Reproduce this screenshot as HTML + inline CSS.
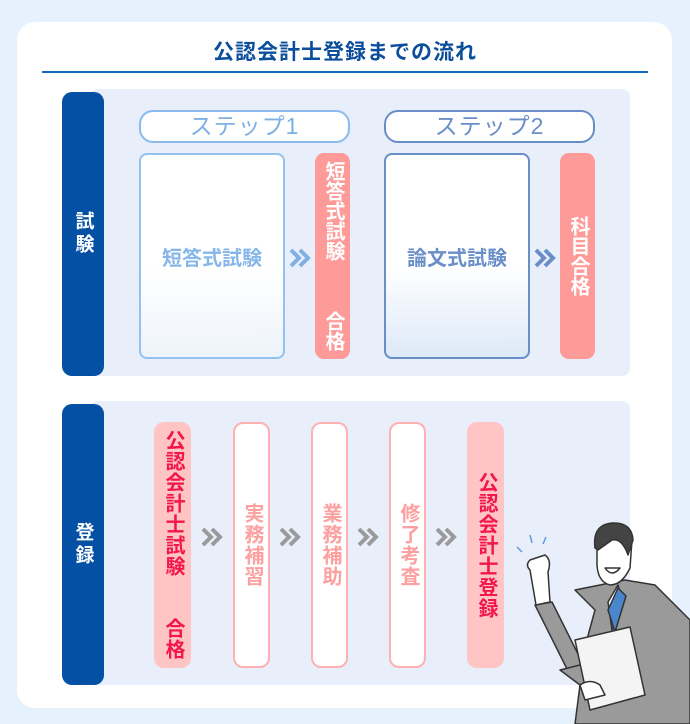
<!DOCTYPE html><html><head><meta charset="utf-8"><style>
*{margin:0;padding:0;box-sizing:border-box}
body{width:690px;height:724px;background:#e5f1fd;position:relative;overflow:hidden;font-family:"Liberation Sans","Noto Sans CJK JP",sans-serif;font-weight:bold}
.a{position:absolute}
.card{left:17px;top:22px;width:655px;height:686px;background:#fff;border-radius:18px}
.title{left:0;width:690px;top:36px;text-align:center;font-size:21px;color:#0b4e9b;letter-spacing:1px}
.line{left:42px;top:71px;width:606px;height:2px;background:#1666b8}
.panel{background:#e8eefa;border-radius:8px}
.bar{background:#0450a5;border-radius:10px;color:#fff;font-size:19px;writing-mode:vertical-rl;display:flex;align-items:center;justify-content:center;letter-spacing:4px}
.pill{border:2px solid #8bbbee;border-radius:14px;background:#fff;text-align:center;font-size:23px;color:#7fb0e4;font-weight:normal;line-height:28px;letter-spacing:1px}
.box{border:2px solid #94c2f0;border-radius:8px;background:linear-gradient(#fff 55%,#eef4fb);display:flex;align-items:center;justify-content:center;font-size:20px;color:#86b6ea}
.red{background:#fe9a98;border-radius:9px;color:#fff;font-size:20px;writing-mode:vertical-rl;display:flex;align-items:center;justify-content:center;line-height:35px}
.v{writing-mode:vertical-rl;display:flex;align-items:center;justify-content:center;font-size:20px;border-radius:10px;line-height:35px;letter-spacing:1px}
.pk{background:#ffc4c4;color:#f2164b}
.wh{background:#fff;border:2px solid #fdb1b1;color:#fca0a0}
</style></head><body>
<div class="a card"></div>
<div class="a title">公認会計士登録までの流れ</div>
<div class="a line"></div>

<div class="a panel" style="left:90px;top:89px;width:540px;height:287px"></div>
<div class="a bar" style="left:62px;top:92px;width:42px;height:284px">試験</div>
<div class="a pill" style="left:139px;top:110px;width:211px;height:33px">ステップ1</div>
<div class="a pill" style="left:384px;top:110px;width:211px;height:33px;border-color:#6a8ec8;color:#6a8ec8">ステップ2</div>
<div class="a box" style="left:139px;top:153px;width:146px;height:206px">短答式試験</div>
<div class="a box" style="left:384px;top:153px;width:146px;height:206px;border-color:#6a8ec8;color:#6a8ec8;background:linear-gradient(#fff 55%,#dde9f8)">論文式試験</div>
<div class="a red" style="left:315px;top:153px;width:35px;height:206px;justify-content:space-between;padding:8px 0 8px">
<span>短答式試験</span><span>合格</span></div>
<div class="a red" style="left:560px;top:153px;width:35px;height:206px">科目合格</div>

<div class="a panel" style="left:90px;top:401px;width:540px;height:284px"></div>
<div class="a bar" style="left:62px;top:404px;width:42px;height:281px">登録</div>
<div class="a v pk" style="left:154px;top:422px;width:37px;height:246px;justify-content:space-between;padding:8px 0 8px"><span>公認会計士試験</span><span>合格</span></div>
<div class="a v wh" style="left:233px;top:422px;width:37px;height:246px">実務補習</div>
<div class="a v wh" style="left:311px;top:422px;width:37px;height:246px">業務補助</div>
<div class="a v wh" style="left:389px;top:422px;width:37px;height:246px">修了考査</div>
<div class="a v pk" style="left:467px;top:422px;width:37px;height:246px">公認会計士登録</div>

<svg class="a" style="left:0;top:0" width="690" height="724">
<defs><g id="ch" fill="none" stroke-width="4" stroke-linejoin="miter">
<path d="M0 0 L8 8 L0 16 M9 0 L17 8 L9 16"/></g></defs>
<use href="#ch" x="291" y="250" stroke="#7fb0e4"/>
<use href="#ch" x="536" y="250" stroke="#6a8ec8"/>
<use href="#ch" x="203" y="529" stroke="#9a9a9a"/>
<use href="#ch" x="281" y="529" stroke="#9a9a9a"/>
<use href="#ch" x="359" y="529" stroke="#9a9a9a"/>
<use href="#ch" x="437" y="529" stroke="#9a9a9a"/>
</svg>

<svg class="a" style="left:500px;top:510px" width="190" height="214" viewBox="0 0 190 214">
<g stroke="#333" stroke-width="1.5" stroke-linejoin="round">
<path d="M17 37 l5 5 M30 25 l2 8 M46 27 l-3 7" stroke="#5a9be0"/>
<path d="M35 95 L52 92 L85 158 L70 165 Z" fill="#9a9a9a"/>
<path d="M75 80 L125 70 L155 75 L175 95 L190 110 L190 214 L75 214 L80 175 L60 160 L80 155 L95 100 Z" fill="#9a9a9a"/>
<path d="M118 75 L108 92 L112 120 L122 90 Z" fill="#fff"/>
<path d="M118 78 L126 86 L115 122 L108 100 Z" fill="#4a86cc"/>
<path d="M30 60 Q25 55 30 50 L45 45 Q52 50 48 62 L50 92 L36 95 Z" fill="#fff"/>
<path d="M97 35 Q95 20 112 17 Q128 14 132 30 L130 58 Q122 75 110 75 Q98 72 97 55 Z" fill="#fff"/>
<path d="M95 38 Q92 15 112 13 Q132 12 133 30 L128 45 Q122 28 112 30 L98 40 Z" fill="#444"/>
<path d="M105 58 Q112 68 120 58 Z" fill="#fff"/>
<path d="M75 130 L130 117 L145 185 L90 200 Z" fill="#f4f4f4"/>
<path d="M80 175 Q90 168 100 175 L105 185 L85 190 Z" fill="#fff"/>
</g></svg>
</body></html>
